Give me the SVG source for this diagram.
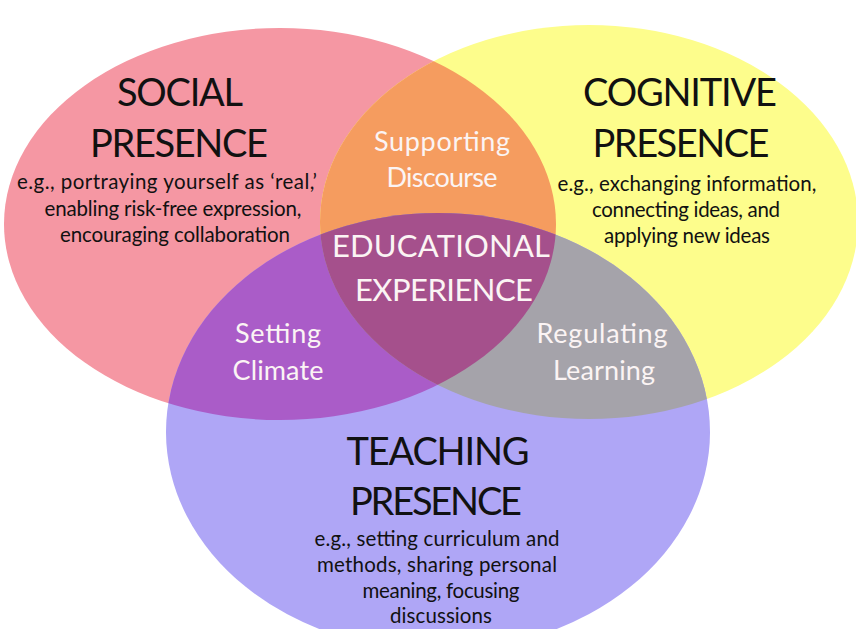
<svg xmlns="http://www.w3.org/2000/svg" width="856" height="629" viewBox="0 0 856 629">
<style>
.t{font-family:Lato,"Open Sans","Liberation Sans",sans-serif;text-anchor:middle}
.h{font-size:38px;fill:#111}
.b{font-size:20.5px;fill:#111}
.w{font-size:27px;fill:#fbf4f4}
.e{font-size:31px;fill:#fbf4f4}
</style>
<defs>
<clipPath id="cpS"><ellipse cx="280" cy="224" rx="276" ry="196"/></clipPath>
<clipPath id="cpC"><ellipse cx="589" cy="222" rx="269" ry="197"/></clipPath>
</defs>
<rect width="856" height="629" fill="#ffffff"/>
<g id="social">
<ellipse cx="280" cy="224" rx="276" ry="196" fill="#f597a3"/>
</g>
<g id="cognitive">
<ellipse cx="589" cy="222" rx="269" ry="197" fill="#fdfd8c"/>
</g>
<g id="teaching">
<ellipse cx="438" cy="432" rx="272" ry="219" fill="#afa6f6"/>
</g>
<g id="supporting-discourse">
<ellipse cx="589" cy="222" rx="269" ry="197" fill="#f59c5f" clip-path="url(#cpS)"/>
</g>
<g id="setting-climate">
<ellipse cx="438" cy="432" rx="272" ry="219" fill="#aa5cc8" clip-path="url(#cpS)"/>
</g>
<g id="regulating-learning">
<ellipse cx="438" cy="432" rx="272" ry="219" fill="#a5a3aa" clip-path="url(#cpC)"/>
</g>
<g id="educational-experience">
<g clip-path="url(#cpS)"><ellipse cx="438" cy="432" rx="272" ry="219" fill="#a5508c" clip-path="url(#cpC)"/></g>
</g>
<g id="labels">
<text class="t h" x="180" y="106" textLength="126">SOCIAL</text>
<text class="t h" x="179" y="157" textLength="178">PRESENCE</text>
<text class="t b" x="167" y="189" textLength="300">e.g., portraying yourself as ‘real,’</text>
<text class="t b" x="173" y="216" textLength="257">enabling risk-free expression,</text>
<text class="t b" x="175" y="242" textLength="230">encouraging collaboration</text>
<text class="t h" x="680" y="106" textLength="194">COGNITIVE</text>
<text class="t h" x="681" y="157" textLength="177">PRESENCE</text>
<text class="t b" x="687" y="191" textLength="259">e.g., exchanging information,</text>
<text class="t b" x="686" y="217" textLength="188">connecting ideas, and</text>
<text class="t b" x="687" y="243" textLength="166">applying new ideas</text>
<text class="t w" x="442" y="151" textLength="136">Supporting</text>
<text class="t w" x="442" y="187" textLength="111">Discourse</text>
<text class="t e" x="441" y="257" textLength="218">EDUCATIONAL</text>
<text class="t e" x="444" y="301" textLength="178">EXPERIENCE</text>
<text class="t w" x="278" y="343" textLength="86">Setting</text>
<text class="t w" x="278" y="380" textLength="91">Climate</text>
<text class="t w" x="602" y="343" textLength="131">Regulating</text>
<text class="t w" x="604" y="380" textLength="102">Learning</text>
<text class="t h" x="438" y="465" textLength="183">TEACHING</text>
<text class="t h" x="436" y="515" textLength="172">PRESENCE</text>
<text class="t b" x="437" y="546" textLength="245">e.g., setting curriculum and</text>
<text class="t b" x="437" y="572" textLength="240">methods, sharing personal</text>
<text class="t b" x="441" y="598" textLength="157">meaning, focusing</text>
<text class="t b" x="441" y="623" textLength="102">discussions</text>
</g>
</svg>
